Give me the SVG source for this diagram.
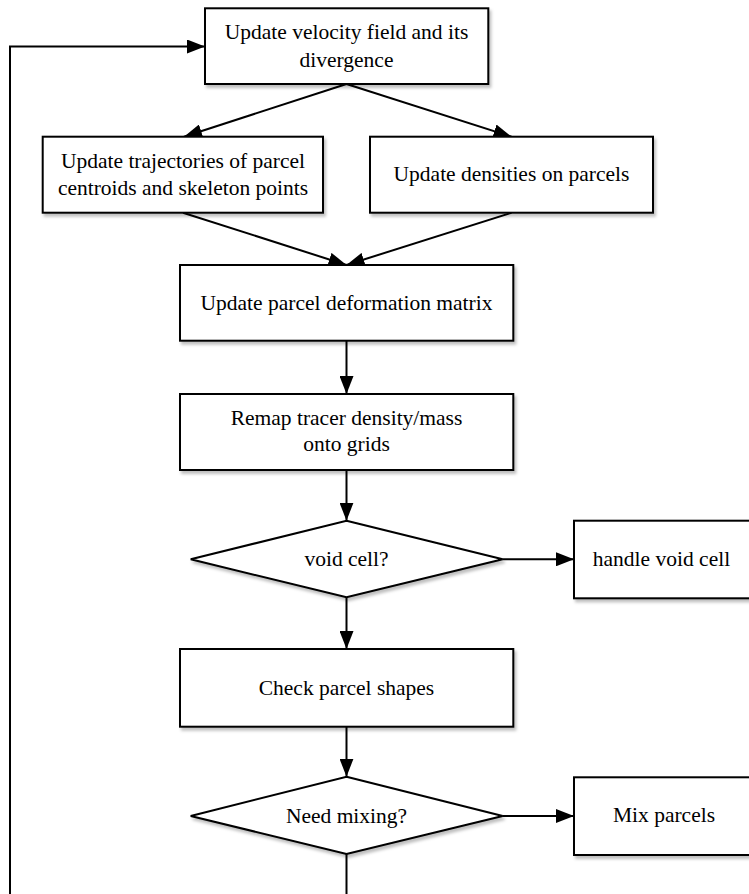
<svg xmlns="http://www.w3.org/2000/svg" width="749" height="894" viewBox="0 0 749 894">
<style>
.box{fill:#fff;stroke:#000;stroke-width:2;filter:url(#sh)}
.t{font-family:"Liberation Serif","Times New Roman",serif;font-size:21.5px;fill:#000;text-anchor:middle}
.c{fill:none;stroke:#000;stroke-width:2}
</style>
<defs>
<filter id="sh" x="-10%" y="-10%" width="130%" height="140%">
<feDropShadow dx="2" dy="3" stdDeviation="1.5" flood-color="#000" flood-opacity="0.25"/>
</filter>
<marker id="ah" markerUnits="userSpaceOnUse" markerWidth="18" markerHeight="14" refX="18" refY="7" orient="auto">
<path d="M0,0 L18,7 L0,14 Z" fill="#000"/>
</marker>
</defs>
<rect width="749" height="894" fill="#fff"/>
<g id="connectors">
<path class="c" d="M346.5,84 L184,136.7" marker-end="url(#ah)"/>
<path class="c" d="M346.5,84 L511.5,136.7" marker-end="url(#ah)"/>
<path class="c" d="M183,212.7 L346.5,265" marker-end="url(#ah)"/>
<path class="c" d="M511.5,212.7 L346.5,265" marker-end="url(#ah)"/>
<path class="c" d="M346.5,340.7 L346.5,394" marker-end="url(#ah)"/>
<path class="c" d="M346.5,470 L346.5,520.7" marker-end="url(#ah)"/>
<path class="c" d="M502.7,559.3 L574,559.3" marker-end="url(#ah)"/>
<path class="c" d="M346.5,597.3 L346.5,649" marker-end="url(#ah)"/>
<path class="c" d="M346.5,726.7 L346.5,776.7" marker-end="url(#ah)"/>
<path class="c" d="M502.7,816 L574,816" marker-end="url(#ah)"/>
<path class="c" d="M346.5,854 L346.5,900"/>
<path class="c" d="M10,900 L10,46.5 L205,46.5" marker-end="url(#ah)"/>
</g>
<g id="n1">
<rect class="box" x="205" y="8.3" width="283.3" height="75.7"/>
<text class="t" x="346.5" y="38.5">Update velocity field and its</text>
<text class="t" x="346.5" y="66.5">divergence</text>
</g>
<g id="n2">
<rect class="box" x="42.7" y="136.7" width="280.3" height="76"/>
<text class="t" x="183" y="167.5">Update trajectories of parcel</text>
<text class="t" x="183" y="194.5">centroids and skeleton points</text>
</g>
<g id="n3">
<rect class="box" x="370" y="136.7" width="283" height="76"/>
<text class="t" x="511.5" y="181">Update densities on parcels</text>
</g>
<g id="n4">
<rect class="box" x="180" y="265" width="333.3" height="75.7"/>
<text class="t" x="346.5" y="309.5">Update parcel deformation matrix</text>
</g>
<g id="n5">
<rect class="box" x="180" y="394" width="333.3" height="76"/>
<text class="t" x="346.5" y="424.5">Remap tracer density/mass</text>
<text class="t" x="346.5" y="451">onto grids</text>
</g>
<g id="n6">
<polygon class="box" points="346.5,520.7 502.7,559.3 346.5,597.3 190.7,559.3"/>
<text class="t" x="346.5" y="565.5">void cell?</text>
</g>
<g id="n7">
<rect class="box" x="574" y="520.7" width="180" height="77.6"/>
<text class="t" x="661.5" y="565.5">handle void cell</text>
</g>
<g id="n8">
<rect class="box" x="180" y="649" width="333.3" height="77.7"/>
<text class="t" x="346.5" y="694.5">Check parcel shapes</text>
</g>
<g id="n9">
<polygon class="box" points="346.5,776.7 502.7,816 346.5,854 190.7,816"/>
<text class="t" x="346.5" y="822.5">Need mixing?</text>
</g>
<g id="n10">
<rect class="box" x="574" y="777.3" width="180" height="77.7"/>
<text class="t" x="664" y="822">Mix parcels</text>
</g>
</svg>
